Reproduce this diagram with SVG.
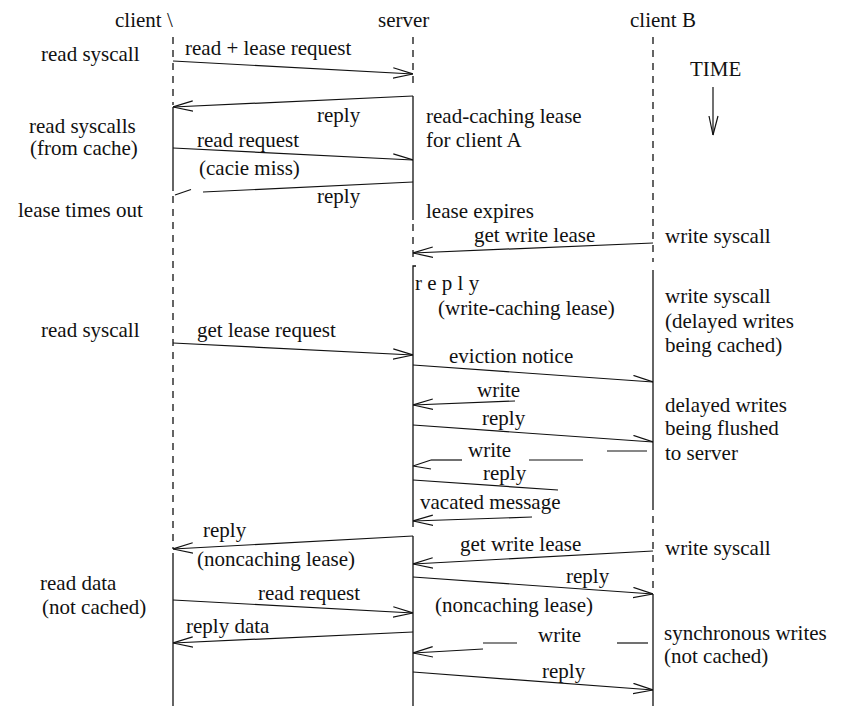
<svg xmlns="http://www.w3.org/2000/svg" width="853" height="706" viewBox="0 0 853 706">
<style>
text { font-family: "Liberation Serif", "Times New Roman", serif; font-size: 21px; fill: #111; }
.life { stroke: #111; stroke-width: 1.3; fill: none; }
.dash { stroke-dasharray: 7 6; }
.msg { stroke: #111; stroke-width: 1.2; fill: none; }
.full { marker-end: url(#arrow); }
.half { marker-end: url(#halfarrow); }
</style>
<defs>
<marker id="arrow" viewBox="0 0 20 12" refX="20" refY="6" markerWidth="20" markerHeight="12" markerUnits="userSpaceOnUse" orient="auto">
<path d="M0,0.8 L20,6 L0,11.2" fill="none" stroke="#111" stroke-width="1.2"/>
</marker>
<marker id="halfarrow" viewBox="0 0 20 12" refX="20" refY="6" markerWidth="20" markerHeight="12" markerUnits="userSpaceOnUse" orient="auto">
<path d="M0,0.8 L20,6" fill="none" stroke="#111" stroke-width="1.2"/>
</marker>
</defs>
<rect width="853" height="706" fill="#fff"/>

<g id="clientA">
<text x="115" y="27">client \</text>
<line class="life dash" x1="173" y1="37" x2="173" y2="105"/>
<line class="life" x1="173" y1="107" x2="173" y2="191"/>
<line class="life dash" x1="173" y1="196" x2="173" y2="549"/>
<line class="life" x1="173" y1="553" x2="173" y2="706"/>
</g>

<g id="server">
<text x="378" y="27">server</text>
<line class="life dash" x1="413" y1="37" x2="413" y2="86"/>
<line class="life" x1="413" y1="96" x2="413" y2="220"/>
<line class="life dash" x1="413" y1="224" x2="413" y2="262"/>
<polyline class="life" points="416,266 413,266 413,527"/>
<line class="life" x1="413" y1="536" x2="413" y2="706"/>
</g>

<g id="clientB">
<text x="630" y="27">client B</text>
<line class="life dash" x1="653" y1="37" x2="653" y2="262"/>
<line class="life" x1="653" y1="270" x2="653" y2="510"/>
<line class="life dash" x1="653" y1="516" x2="653" y2="590"/>
<line class="life" x1="653" y1="594" x2="653" y2="706"/>
</g>

<g id="time">
<text x="690" y="76">TIME</text>
<line class="msg" x1="713" y1="87" x2="713" y2="135"/>
<polyline class="msg" points="709,116 713,135 718,116"/>
</g>

<g id="clientA-notes">
<text x="41" y="61">read syscall</text>
<text x="29" y="133">read syscalls</text>
<text x="30" y="155">(from cache)</text>
<text x="18" y="217">lease times out</text>
<text x="41" y="337">read syscall</text>
<text x="40" y="590">read data</text>
<text x="42" y="614">(not cached)</text>
</g>

<g id="server-notes">
<text x="426" y="123">read-caching lease</text>
<text x="426" y="147">for client A</text>
<text x="426" y="218">lease expires</text>
</g>

<g id="clientB-notes">
<text x="665" y="243">write syscall</text>
<text x="665" y="303">write syscall</text>
<text x="665" y="328">(delayed writes</text>
<text x="665" y="352">being cached)</text>
<text x="665" y="412">delayed writes</text>
<text x="665" y="435">being flushed</text>
<text x="665" y="460">to server</text>
<text x="665" y="555">write syscall</text>
<text x="664" y="640">synchronous writes</text>
<text x="664" y="663">(not cached)</text>
</g>

<g id="connectors">
<line class="msg full" x1="173" y1="61" x2="413" y2="74"/>
<line class="msg full" x1="413" y1="96" x2="173" y2="107"/>
<line class="msg half" x1="173" y1="148" x2="413" y2="160"/>
<line class="msg" x1="413" y1="182" x2="203" y2="192"/>
<line class="msg" x1="175" y1="195" x2="191" y2="189.5"/>
<line class="msg full" x1="653" y1="243" x2="413" y2="253"/>
<line class="msg full" x1="173" y1="343" x2="413" y2="355"/>
<line class="msg half" x1="413" y1="365" x2="653" y2="382"/>
<line class="msg full" x1="515" y1="401" x2="413" y2="405"/>
<line class="msg half" x1="413" y1="425" x2="653" y2="442"/>
<line class="msg" x1="607" y1="451" x2="647" y2="451"/>
<line class="msg" x1="529" y1="460" x2="583" y2="460"/>
<line class="msg" x1="431" y1="460" x2="462" y2="460"/>
<polyline class="msg" points="431,460 413,466 431,469"/>
<line class="msg" x1="413" y1="480" x2="558" y2="490"/>
<line class="msg full" x1="532" y1="517" x2="413" y2="521"/>
<line class="msg full" x1="413" y1="536" x2="173" y2="549"/>
<line class="msg full" x1="653" y1="551" x2="413" y2="564"/>
<line class="msg full" x1="413" y1="577" x2="653" y2="594"/>
<line class="msg full" x1="173" y1="600" x2="413" y2="613"/>
<line class="msg full" x1="413" y1="632" x2="173" y2="643"/>
<line class="msg" x1="483" y1="643" x2="517" y2="643"/>
<line class="msg" x1="617" y1="643" x2="648" y2="643"/>
<line class="msg full" x1="483" y1="649" x2="413" y2="653"/>
<line class="msg full" x1="413" y1="672" x2="653" y2="690"/>
</g>

<g id="labels">
<text x="185" y="55">read + lease request</text>
<text x="317" y="122">reply</text>
<text x="197" y="147">read request</text>
<text x="199" y="175">(cacie miss)</text>
<text x="317" y="203">reply</text>
<text x="474" y="242">get write lease</text>
<text x="415" y="290">r e p l y</text>
<text x="438" y="315">(write-caching lease)</text>
<text x="197" y="337">get lease request</text>
<text x="449" y="363">eviction notice</text>
<text x="477" y="397">write</text>
<text x="482" y="425">reply</text>
<text x="468" y="457">write</text>
<text x="483" y="480">reply</text>
<text x="420" y="509">vacated message</text>
<text x="203" y="537">reply</text>
<text x="460" y="551">get write lease</text>
<text x="197" y="566">(noncaching lease)</text>
<text x="566" y="583">reply</text>
<text x="258" y="600">read request</text>
<text x="435" y="612">(noncaching lease)</text>
<text x="186" y="633">reply data</text>
<text x="538" y="642">write</text>
<text x="542" y="678">reply</text>
</g>
</svg>
